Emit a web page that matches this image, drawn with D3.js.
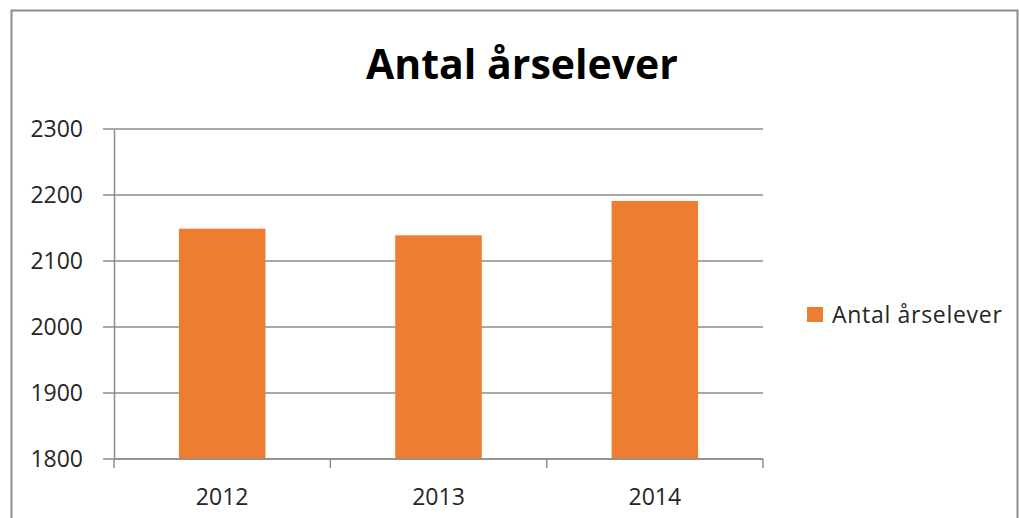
<!DOCTYPE html>
<html>
<head>
<meta charset="utf-8">
<script src="https://cdn.jsdelivr.net/npm/d3@7"></script>
<style>
  body { margin: 0; background: #fff; }
  text { font-family: "Open Sans", sans-serif; }
</style>
</head>
<body>
<div id="chart"></div>
<script>
// data
var years = ["2012", "2013", "2014"];
var elever = [2149, 2139, 2191];
var yTicks = [1800, 1900, 2000, 2100, 2200, 2300];
var seriesName = "Antal årselever";

var W = 1019, H = 518;
var margin = {top: 129, left: 114, right: 256, bottom: 59};
var width = W - margin.left - margin.right,
    height = H - margin.top - margin.bottom;

var svg = d3.select("#chart").append("svg")
  .attr("width", W)
  .attr("height", H);

// chart frame
svg.append("rect")
  .attr("x", 11.5).attr("y", 10.5)
  .attr("width", 1006).attr("height", 520)
  .attr("fill", "none")
  .attr("stroke", "#8c8c8c")
  .attr("stroke-width", 2);

svg.append("text")
  .attr("x", 522).attr("y", 79)
  .attr("text-anchor", "middle")
  .attr("font-size", 41)
  .attr("font-weight", "bold")
  .attr("fill", "#000")
  .text(seriesName);

var g = svg.append("g")
  .attr("transform", "translate(" + margin.left + "," + margin.top + ")");

var x = d3.scaleBand()
  .domain(years)
  .range([0, width])
  .paddingInner(0.6)
  .paddingOuter(0.3);

var y = d3.scaleLinear()
  .domain([1800, 2300])
  .range([height, 0]);

// gridlines
g.append("g")
  .selectAll("line")
  .data(yTicks)
  .enter().append("line")
    .attr("x1", -11)
    .attr("x2", width)
    .attr("y1", function(d) { return y(d); })
    .attr("y2", function(d) { return y(d); })
    .attr("stroke", "#8c8c8c")
    .attr("stroke-width", 1.5);

// y axis
var yAxis = g.append("g")
  .call(d3.axisLeft(y).tickValues(yTicks).tickSize(0).tickPadding(31).tickFormat(d3.format("d")));
yAxis.select(".domain").attr("stroke", "#8c8c8c").attr("stroke-width", 1.5);
yAxis.selectAll("text")
  .attr("font-size", 23)
  .attr("fill", "#262626")
  .attr("font-family", "Open Sans, sans-serif");

// bars
g.selectAll("rect.bar")
  .data(elever)
  .enter().append("rect")
    .attr("class", "bar")
    .attr("x", function(d, i) { return x(years[i]); })
    .attr("y", function(d) { return y(d); })
    .attr("width", x.bandwidth())
    .attr("height", function(d) { return height - y(d); })
    .attr("fill", "#ed7d31");

// x axis, ticks at band boundaries
var xg = g.append("g").attr("transform", "translate(0," + height + ")");
xg.append("line")
  .attr("x1", 0).attr("x2", width)
  .attr("stroke", "#8c8c8c").attr("stroke-width", 1.5);
var step = x.step();
xg.selectAll("line.tick")
  .data(d3.range(years.length + 1))
  .enter().append("line")
    .attr("class", "tick")
    .attr("x1", function(i) { return i * step; })
    .attr("x2", function(i) { return i * step; })
    .attr("y1", 0).attr("y2", 9)
    .attr("stroke", "#8c8c8c").attr("stroke-width", 1.5);
xg.selectAll("text")
  .data(years)
  .enter().append("text")
    .attr("x", function(d) { return x(d) + x.bandwidth() / 2; })
    .attr("y", 46)
    .attr("text-anchor", "middle")
    .attr("font-size", 23)
    .attr("fill", "#262626")
    .text(function(d) { return d; });

// legend
var leg = svg.append("g").attr("transform", "translate(807,307)");
leg.append("rect")
  .attr("width", 16).attr("height", 15)
  .attr("fill", "#ed7d31");
leg.append("text")
  .attr("x", 25).attr("y", 16)
  .attr("font-size", 23)
  .attr("letter-spacing", 0.7)
  .attr("fill", "#262626")
  .text(seriesName);
</script>
</body>
</html>
